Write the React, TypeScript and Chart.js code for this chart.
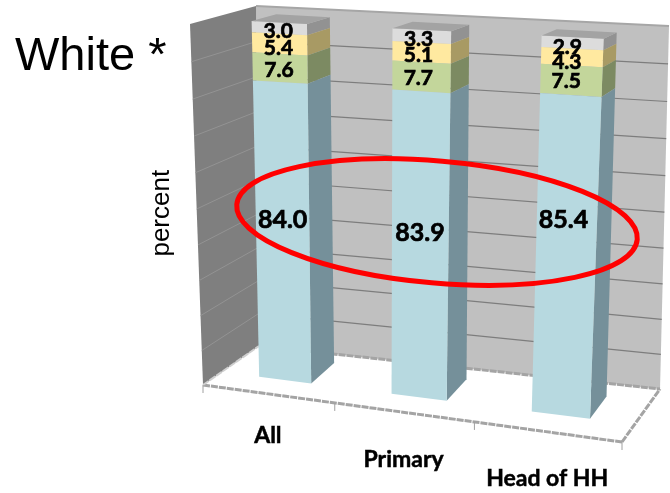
import React, { useEffect, useRef } from "react";
import { Chart, registerables } from "chart.js";

Chart.register(...registerables);

const categories = ["All", "Primary", "Head of HH"];
const whiteShare = [84.0, 83.9, 85.4];
const secondShare = [7.6, 7.7, 7.5];
const thirdShare = [5.4, 5.1, 4.3];
const fourthShare = [3.0, 3.3, 2.9];

// Hand placement of the printed values relative to their segment centres, per stack layer.
const labelShiftX = [[0, 0, -2], [-1, -3, -5], [-1, -3, -5], [-1, -3, -5]];
const labelShiftY = [[-14, -15, -39], [2, 1, 1], [4, 3, 5], [3, 3, 4]];
const categoryDrop = [42, 47, 47];

type Pt = [number, number];

// Corners of the plot box on the canvas: front-left, front-right, back-right, back-left.
const FLOOR: Pt[] = [[203, 385], [622, 442], [660, 389], [259, 346]];
const CEILING: Pt[] = [[190, 24], [633, 46], [669, 26], [256, 6]];
// The slab of depth that the bars occupy, as floor and ceiling rectangles of their own.
const BAR_FLOOR: Pt[] = [[221, 372], [634.5, 424.5], [650, 402], [246, 352]];
const BAR_CEILING: Pt[] = [[211, 19], [651, 41.5], [662.5, 35.5], [237, 12]];
// Gentle foreshortening along the category and value directions.
const FORESHORTEN_U = 0.085;
const FORESHORTEN_V = 0.05;

function planeMap(q: Pt[]) {
  return (u: number, w: number): Pt => {
    const t = u - FORESHORTEN_U * u * (1 - u);
    const ax = q[0][0] + (q[1][0] - q[0][0]) * t, ay = q[0][1] + (q[1][1] - q[0][1]) * t;
    const bx = q[3][0] + (q[2][0] - q[3][0]) * t, by = q[3][1] + (q[2][1] - q[3][1]) * t;
    return [ax + (bx - ax) * w, ay + (by - ay) * w];
  };
}

const between = (a: Pt, b: Pt, v: number): Pt => {
  const t = v - FORESHORTEN_V * v * (1 - v);
  return [a[0] + (b[0] - a[0]) * t, a[1] + (b[1] - a[1]) * t];
};

const boxFloor = planeMap(FLOOR);
const boxCeiling = planeMap(CEILING);
const barFloor = planeMap(BAR_FLOOR);
const barCeiling = planeMap(BAR_CEILING);

// u: across the categories, v: up the value axis, w: into the depth.
const boxPoint = (u: number, v: number, w: number) => between(boxFloor(u, w), boxCeiling(u, w), v);
const barPoint = (u: number, v: number, w: number) => between(barFloor(u, w), barCeiling(u, w), v);

function fillPoly(ctx: CanvasRenderingContext2D, pts: Pt[], color: string) {
  ctx.beginPath();
  pts.forEach((p, i) => (i ? ctx.lineTo(p[0], p[1]) : ctx.moveTo(p[0], p[1])));
  ctx.closePath();
  ctx.fillStyle = color;
  ctx.fill();
}

function strokeLine(ctx: CanvasRenderingContext2D, a: Pt, b: Pt, color: string, width: number, dash: number[] = []) {
  ctx.beginPath();
  ctx.moveTo(a[0], a[1]);
  ctx.lineTo(b[0], b[1]);
  ctx.strokeStyle = color;
  ctx.lineWidth = width;
  ctx.setLineDash(dash);
  ctx.stroke();
  ctx.setLineDash([]);
}

function unitX(chart: any, px: number) {
  return (px - chart.chartArea.left) / chart.chartArea.width;
}
function unitY(chart: any, px: number) {
  return (chart.chartArea.bottom - px) / chart.chartArea.height;
}

function barCorners(chart: any, bar: any) {
  const { x, y, base, width } = bar.getProps(["x", "y", "base", "width"], true);
  return {
    u0: unitX(chart, x - width / 2),
    u1: unitX(chart, x + width / 2),
    v0: unitY(chart, base),
    v1: unitY(chart, y),
  };
}

const box3d = {
  id: "box3d",
  beforeDatasetsDraw(chart: any) {
    const ctx = chart.ctx;
    // Walls
    fillPoly(ctx, [boxPoint(0, 0, 1), boxPoint(1, 0, 1), boxPoint(1, 1, 1), boxPoint(0, 1, 1)], "#c0c0c0");
    fillPoly(ctx, [boxPoint(0, 0, 0), boxPoint(0, 0, 1), boxPoint(0, 1, 1), boxPoint(0, 1, 0)], "#7f7f7f");
    strokeLine(ctx, boxPoint(0, 1, 1), boxPoint(1, 1, 1), "#a6a6a6", 2);
    // Horizontal gridlines from the value axis
    const yScale = chart.scales.y;
    yScale.ticks.forEach((t: any) => {
      if (t.value <= 0 || t.value >= 100) return;
      const v = unitY(chart, yScale.getPixelForValue(t.value));
      strokeLine(ctx, boxPoint(0, v, 0), boxPoint(0, v, 1), "#939393", 1);
      strokeLine(ctx, boxPoint(0, v, 1), boxPoint(1, v, 1), "#7d7d7d", 1.2);
    });
    // Floor outline and category ticks
    const edge = "#a4a4a4";
    const dash = [7, 1];
    strokeLine(ctx, boxPoint(0, 0, 0), boxPoint(1, 0, 0), edge, 3, dash);
    strokeLine(ctx, boxPoint(1, 0, 0), boxPoint(1, 0, 1), edge, 3, dash);
    strokeLine(ctx, boxPoint(0, 0, 1), boxPoint(1, 0, 1), edge, 3, dash);
    strokeLine(ctx, boxPoint(0, 0, 0), boxPoint(0, 0, 1), "#cfcfcf", 2, dash);
    const xScale = chart.scales.x;
    for (let i = 0; i <= categories.length; i++) {
      const u = unitX(chart, xScale.getPixelForValue(i - 0.5));
      const p = boxPoint(u, 0, 0);
      strokeLine(ctx, p, [p[0], p[1] + 8], "#a0a0a0", 1);
    }
  },
  beforeDatasetDraw(chart: any, args: any) {
    const ctx = chart.ctx;
    const ds = chart.data.datasets[args.index];
    args.meta.data.forEach((bar: any) => {
      const { u0, u1, v0, v1 } = barCorners(chart, bar);
      fillPoly(ctx, [barPoint(u1, v0, 0), barPoint(u1, v0, 1), barPoint(u1, v1, 1), barPoint(u1, v1, 0)], ds.sideColor);
      fillPoly(ctx, [barPoint(u0, v0, 0), barPoint(u1, v0, 0), barPoint(u1, v1, 0), barPoint(u0, v1, 0)], ds.backgroundColor);
    });
    return false;
  },
  afterDatasetsDraw(chart: any) {
    const ctx = chart.ctx;
    const count = chart.data.datasets.length;
    // Bar lids
    chart.getDatasetMeta(count - 1).data.forEach((bar: any) => {
      const { u0, u1, v1 } = barCorners(chart, bar);
      fillPoly(ctx, [barPoint(u0, v1, 0), barPoint(u1, v1, 0), barPoint(u1, v1, 1), barPoint(u0, v1, 1)], "#a3a3a3");
    });
    // Value labels
    ctx.fillStyle = "#000";
    ctx.strokeStyle = "#000";
    ctx.lineWidth = 0.7;
    ctx.textAlign = "center";
    ctx.textBaseline = "middle";
    chart.data.datasets.forEach((ds: any, d: number) => {
      ctx.font = `bold ${d === 0 ? 25 : 21}px Lato`;
      chart.getDatasetMeta(d).data.forEach((bar: any, i: number) => {
        const { u0, u1, v0, v1 } = barCorners(chart, bar);
        const p = barPoint((u0 + u1) / 2, (v0 + v1) / 2, 0);
        const tx = p[0] + labelShiftX[d][i];
        const ty = p[1] + labelShiftY[d][i];
        ctx.fillText(ds.data[i].toFixed(1), tx, ty);
        ctx.strokeText(ds.data[i].toFixed(1), tx, ty);
      });
    });
    // Category labels under the floor's front edge
    const xScale = chart.scales.x;
    ctx.font = "bold 23px Lato";
    ctx.lineWidth = 0.5;
    categories.forEach((name, i) => {
      const u = unitX(chart, xScale.getPixelForValue(i));
      const p = boxPoint(u, 0, 0);
      ctx.fillText(name, p[0], p[1] + categoryDrop[i]);
      ctx.strokeText(name, p[0], p[1] + categoryDrop[i]);
    });
    // Ring around the white share
    ctx.beginPath();
    ctx.ellipse(437, 222, 201, 61, (5 * Math.PI) / 180, 0, Math.PI * 2);
    ctx.strokeStyle = "#ff0000";
    ctx.lineWidth = 5;
    ctx.stroke();
  },
};

export default function App() {
  const ref = useRef<HTMLCanvasElement>(null);
  useEffect(() => {
    const chart = new Chart(ref.current!, {
      type: "bar",
      data: {
        labels: categories,
        datasets: [
          { label: "White", data: whiteShare, backgroundColor: "#b7d9e0", sideColor: "#75909a" },
          { label: "Second", data: secondShare, backgroundColor: "#c3d69b", sideColor: "#7c8a62" },
          { label: "Third", data: thirdShare, backgroundColor: "#ffe9a0", sideColor: "#a89a64" },
          { label: "Fourth", data: fourthShare, backgroundColor: "#dcdcdc", sideColor: "#929292" },
        ] as any,
      },
      options: {
        animation: false,
        responsive: false,
        barPercentage: 0.4,
        categoryPercentage: 1,
        layout: { padding: { left: 15, top: 29, bottom: 152 } },
        plugins: {
          legend: { display: false },
          tooltip: { enabled: false },
          title: {
            display: true,
            text: "White *",
            align: "start",
            color: "#000",
            font: { family: "'Liberation Sans'", size: 47, weight: "normal" },
            padding: 0,
          },
        },
        scales: {
          x: { stacked: true, display: false },
          y: {
            stacked: true,
            min: 0,
            max: 100,
            ticks: { display: false, stepSize: 10 },
            grid: { display: false },
            border: { display: false },
            title: {
              display: true,
              text: "percent",
              color: "#000",
              font: { family: "'Liberation Sans'", size: 26, weight: "normal" },
              padding: { top: 131, bottom: 0 },
            },
          },
        },
      } as any,
      plugins: [box3d],
    });
    return () => chart.destroy();
  }, []);
  return (
    <div style={{ position: "fixed", left: 0, top: 0, width: 670, height: 493, background: "#fff" }}>
      <canvas ref={ref} width={670} height={493} style={{ display: "block" }} />
    </div>
  );
}
